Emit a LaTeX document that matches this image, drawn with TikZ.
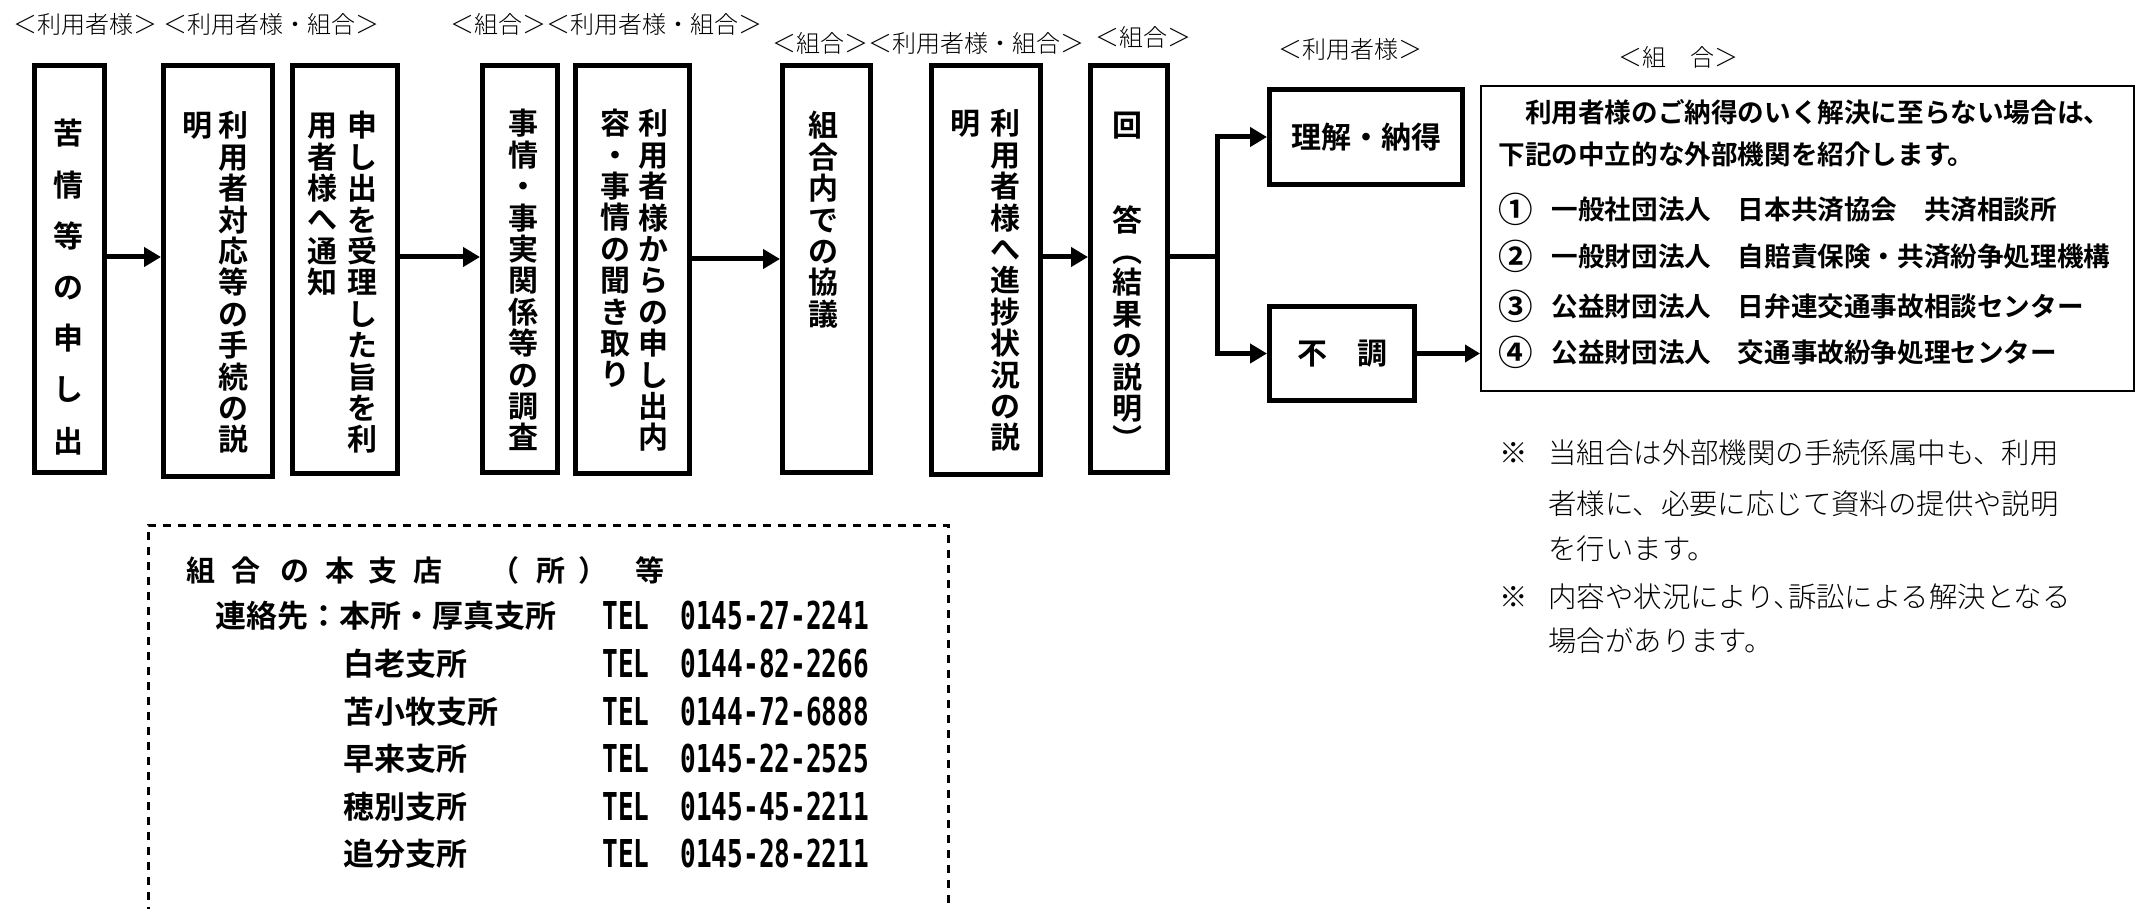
\documentclass[tikz,border=0pt]{standalone}
\usepackage{fontspec}
\usepackage{graphicx}
\usetikzlibrary{arrows.meta}
\setmainfont{Noto Sans CJK JP}
\IfFontExistsTF{Noto Sans CJK JP Bold}{\newfontfamily\bjp{Noto Sans CJK JP Bold}}{\newfontfamily\bjp{Noto Sans CJK JP}[FakeBold=2]}
\IfFontExistsTF{Noto Sans CJK JP Light}{\newfontfamily\ljp{Noto Sans CJK JP Light}}{\newfontfamily\ljp{Noto Sans CJK JP}}
\newfontfamily\telfont{DejaVu Sans Mono}[FakeStretch=0.68]
\newcommand\vs{\rule{0pt}{0.88em}}
\newcommand\hc[2]{\makebox[#1][l]{#2}}
\newcommand\cnum[1]{\raisebox{-0.11em}{\scalebox{1.3}{#1}}\hspace{0.7em}}
\begin{document}
\begin{tikzpicture}[x=0.5pt,y=-0.5pt,
  box/.style={draw, line width=2.5pt, inner sep=0pt},
  thinbox/.style={draw, line width=1pt, inner sep=0pt},
  arr/.style={line width=2.5pt, -{Triangle[length=8.5pt,width=9.5pt]}},
  arrs/.style={line width=2.5pt, -{Triangle[length=7.5pt,width=8.5pt]}},
  conn/.style={line width=2.5pt},
  vcol/.style={font=\bjp\fontsize{15pt}{15.7pt}\selectfont, align=center, anchor=north, inner sep=0pt},
  lbl/.style={font=\ljp\fontsize{12pt}{12pt}\selectfont, anchor=base west, inner sep=0pt},
  rbtext/.style={font=\bjp\fontsize{13.3pt}{13.3pt}\selectfont, anchor=base west, inner sep=0pt},
  note/.style={font=\ljp\fontsize{14.2pt}{14.2pt}\selectfont, anchor=base west, inner sep=0pt},
  head/.style={font=\bjp\fontsize{14.5pt}{14.5pt}\selectfont, anchor=base west, inner sep=0pt},
  cont/.style={font=\bjp\fontsize{15.5pt}{15.5pt}\selectfont, anchor=base west, inner sep=0pt},
  tel/.style={font=\telfont\bfseries\fontsize{19.2pt}{19.2pt}\selectfont, anchor=base west, inner sep=0pt},
  dashline/.style={line width=1.5pt, dash pattern=on 4pt off 3.5pt}
]
\useasboundingbox (0,0) rectangle (2148,909);
\fill[white] (0,0) rectangle (2148,909);

% top labels
\node[lbl] (l1) at (13,34) {＜利用者様＞};
\node[lbl] (l2) at (163,34) {＜利用者様・組合＞};
\node[lbl] (l3) at (450,34) {＜組合＞＜利用者様・組合＞};
\node[lbl] (l4) at (772,53) {＜組合＞＜利用者様・組合＞};
\node[lbl] (l5) at (1095,47) {＜組合＞};
\node[lbl] (l6) at (1278,59) {＜利用者様＞};
\node[lbl] (l7) at (1618,67) {＜組　合＞};

% boxes
\node[box, minimum width=35pt, minimum height=203.5pt] (b1) at (69.5,269) {};
\node[box, minimum width=54.5pt, minimum height=205.5pt] (b2) at (218,271) {};
\node[box, minimum width=52.5pt, minimum height=204pt] (b3) at (345,269.5) {};
\node[box, minimum width=37.5pt, minimum height=203.5pt] (b4) at (520,269) {};
\node[box, minimum width=57pt, minimum height=204pt] (b5) at (632.5,269.5) {};
\node[box, minimum width=44pt, minimum height=203.5pt] (b6) at (826.5,269) {};
\node[box, minimum width=54.5pt, minimum height=204.5pt] (b7) at (986,270) {};
\node[box, minimum width=38.5pt, minimum height=203.5pt] (b8) at (1129,269) {};
\node[box, minimum width=96.5pt, minimum height=47.5pt, font=\bjp\fontsize{15pt}{15pt}\selectfont] (ok) at (1366,137) {理解・納得};
\node[box, minimum width=72.5pt, minimum height=47pt, font=\bjp\fontsize{15pt}{15pt}\selectfont] (ng) at (1342,353.5) {不　調};
\node[thinbox, minimum width=326.5pt, minimum height=152.5pt] (rb) at (1807.5,238.5) {};

% vertical texts
\node[vcol, font=\bjp\fontsize{15pt}{25.6pt}\selectfont] (c1) at (69,118) {\vs 苦\\情\\等\\の\\申\\し\\出};
\node[vcol] (c2a) at (233,110) {\vs 利\\用\\者\\対\\応\\等\\の\\手\\続\\の\\説};
\node[vcol] (c2b) at (197,110) {\vs 明};
\node[vcol] (c3a) at (362,110) {\vs 申\\し\\出\\を\\受\\理\\し\\た\\旨\\を\\利};
\node[vcol] (c3b) at (322,110) {\vs 用\\者\\様\\へ\\通\\知};
\node[vcol] (c4) at (523,108) {\vs 事\\情\\・\\事\\実\\関\\係\\等\\の\\調\\査};
\node[vcol] (c5a) at (653,108) {\vs 利\\用\\者\\様\\か\\ら\\の\\申\\し\\出\\内};
\node[vcol] (c5b) at (615,108) {\vs 容\\・\\事\\情\\の\\聞\\き\\取\\り};
\node[vcol] (c6) at (823,110) {\vs 組\\合\\内\\で\\の\\協\\議};
\node[vcol] (c7a) at (1005,108) {\vs 利\\用\\者\\様\\へ\\進\\捗\\状\\況\\の\\説};
\node[vcol] (c7b) at (965,108) {\vs 明};
\node[vcol] (c8) at (1127,110) {\vs 回\\[31.4pt]答\\︵\\結\\果\\の\\説\\明\\︶};

% connectors
\coordinate (ya) at (0,257);
\coordinate (yb) at (0,259);
\draw[arr] (b1.east |- ya) -- (b2.west |- ya);
\draw[arr] (b3.east |- ya) -- (b4.west |- ya);
\draw[arr] (b5.east |- yb) -- (b6.west |- yb);
\draw[arr] (b7.east |- ya) -- (b8.west |- ya);
\coordinate (j) at (1217,257);
\draw[conn] (b8.east |- j) -- (j);
\draw[arr] (j) |- (ok.west);
\draw[arr] (j) |- (ng.west);
\draw[arrs] (ng.east) -- (rb.west |- ng.east);

% right box text
\node[rbtext] (r1) at (1498,123) {　利用者様のご納得のいく解決に至らない場合は、};
\node[rbtext] (r2) at (1498,165) {下記の中立的な外部機関を紹介します。};
\node[rbtext] (r3) at (1498,220) {\cnum{①}一般社団法人　日本共済協会　共済相談所};
\node[rbtext] (r4) at (1498,267) {\cnum{②}一般財団法人　自賠責保険・共済紛争処理機構};
\node[rbtext] (r5) at (1498,317) {\cnum{③}公益財団法人　日弁連交通事故相談センター};
\node[rbtext] (r6) at (1498,363) {\cnum{④}公益財団法人　交通事故紛争処理センター};

% notes
\node[note] (n1m) at (1499,463) {※};
\node[note] (n1) at (1548,463) {当組合は外部機関の手続係属中も、利用};
\node[note] (n2) at (1548,514) {者様に、必要に応じて資料の提供や説明};
\node[note] (n3) at (1548,559) {を行います。};
\node[note] (n4m) at (1499,607) {※};
\node[note] (n4) at (1548,607) {内容や状況により、\kern-0.5em訴訟による解決となる};
\node[note] (n5) at (1548,651) {場合があります。};

% dashed contact box
\draw[dashline] (148,915) -- (148,525) -- (948,525) -- (948,915);
\node[head] (h) at (186.5,581) {\hc{22.5pt}{組}\hc{24.5pt}{合}\hc{22.5pt}{の}\hc{21.5pt}{本}\hc{22.5pt}{支}\hc{38.25pt}{店}\hc{23.25pt}{（}\hc{20.75pt}{所}\hc{28.75pt}{）}等};
\node[cont] (k1) at (215,627) {連絡先：本所・厚真支所};
\node[cont] (k2) at (343,675) {白老支所};
\node[cont] (k3) at (343,723) {苫小牧支所};
\node[cont] (k4) at (343,770) {早来支所};
\node[cont] (k5) at (343,818) {穂別支所};
\node[cont] (k6) at (343,865) {追分支所};
\node[tel] (t1) at (602,629) {TEL};
\node[tel] (t2) at (602,677) {TEL};
\node[tel] (t3) at (602,725) {TEL};
\node[tel] (t4) at (602,772) {TEL};
\node[tel] (t5) at (602,820) {TEL};
\node[tel] (t6) at (602,867) {TEL};
\node[tel] (p1) at (680,629) {0145-27-2241};
\node[tel] (p2) at (680,677) {0144-82-2266};
\node[tel] (p3) at (680,725) {0144-72-6888};
\node[tel] (p4) at (680,772) {0145-22-2525};
\node[tel] (p5) at (680,820) {0145-45-2211};
\node[tel] (p6) at (680,867) {0145-28-2211};
\end{tikzpicture}
\end{document}
